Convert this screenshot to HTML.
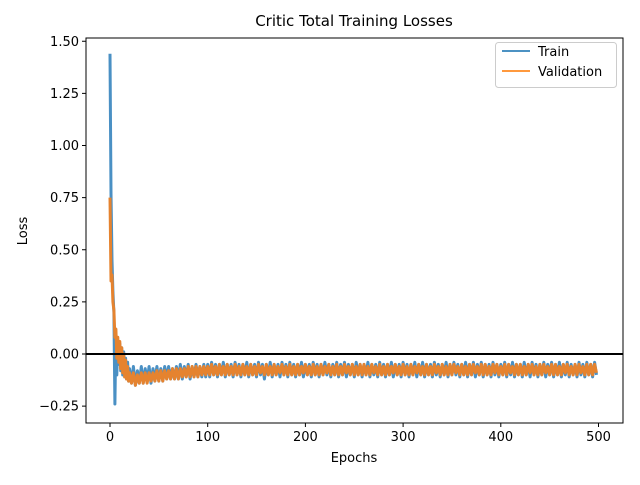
<!DOCTYPE html>
<html><head><meta charset="utf-8"><style>
body{margin:0;background:#fff}
svg text{font-family:"DejaVu Sans","Liberation Sans",sans-serif;fill:#000}
</style></head><body>
<svg id="chart" width="640" height="480"></svg>
<script>
const earlyTrain=[1.44,0.77,0.45,0.30,0.20,-0.24,0.10,-0.10,0.06,-0.05,0.05,-0.08,0.03,-0.10,0.01,-0.11,-0.02,-0.12,-0.04,-0.13];
const earlyVal=[0.75,0.35,0.38,0.25,0.21,0.08,0.12,-0.02,0.08,-0.04,0.06,-0.07,0.03,-0.09,0.00,-0.11,-0.03,-0.12,-0.06,-0.13];
const lateStart=20, lateStep=2;
const lateTrain=[
-0.07,-0.14,-0.06,-0.15,-0.08,-0.14,-0.06,-0.14,-0.07,-0.13,-0.06,-0.14,-0.07,-0.13,-0.06,-0.13,-0.07,-0.13,-0.06,-0.12,
-0.06,-0.12,-0.07,-0.12,-0.06,-0.12,-0.05,-0.12,-0.06,-0.11,-0.05,-0.12,-0.06,-0.11,-0.05,-0.11,-0.06,-0.11,-0.05,-0.11,
-0.05,-0.11,-0.04,-0.10,-0.05,-0.11,-0.05,-0.10,-0.04,-0.11,-0.05,-0.10,-0.05,-0.11,-0.04,-0.10,-0.05,-0.11,-0.05,-0.10,
-0.04,-0.11,-0.05,-0.10,-0.05,-0.11,-0.04,-0.10,-0.05,-0.12,-0.05,-0.10,-0.04,-0.11,-0.05,-0.10,-0.05,-0.11,-0.04,-0.10,
-0.05,-0.11,-0.04,-0.10,-0.05,-0.11,-0.05,-0.10,-0.04,-0.11,-0.05,-0.10,-0.05,-0.11,-0.04,-0.10,-0.05,-0.11,-0.05,-0.10,
-0.04,-0.10,-0.05,-0.11,-0.05,-0.10,-0.04,-0.11,-0.05,-0.10,-0.04,-0.11,-0.05,-0.10,-0.05,-0.11,-0.04,-0.10,-0.05,-0.11,
-0.05,-0.10,-0.04,-0.11,-0.05,-0.10,-0.05,-0.11,-0.04,-0.10,-0.05,-0.11,-0.05,-0.10,-0.04,-0.11,-0.05,-0.10,-0.05,-0.11,
-0.04,-0.10,-0.05,-0.11,-0.05,-0.10,-0.04,-0.11,-0.05,-0.10,-0.04,-0.11,-0.05,-0.10,-0.05,-0.11,-0.04,-0.10,-0.05,-0.11,
-0.05,-0.10,-0.04,-0.11,-0.05,-0.10,-0.04,-0.10,-0.05,-0.11,-0.05,-0.10,-0.04,-0.11,-0.05,-0.10,-0.04,-0.11,-0.05,-0.10,
-0.04,-0.11,-0.05,-0.10,-0.05,-0.11,-0.04,-0.10,-0.05,-0.11,-0.05,-0.10,-0.04,-0.11,-0.05,-0.10,-0.04,-0.11,-0.05,-0.10,
-0.05,-0.11,-0.04,-0.10,-0.05,-0.11,-0.04,-0.10,-0.05,-0.11,-0.05,-0.10,-0.04,-0.11,-0.05,-0.10,-0.04,-0.11,-0.05,-0.10,
-0.04,-0.11,-0.05,-0.10,-0.04,-0.11,-0.05,-0.10,-0.05,-0.11,-0.04,-0.10,-0.05,-0.11,-0.04,-0.10,-0.05,-0.11,-0.04,-0.10];
const lateVal=[
-0.09,-0.14,-0.09,-0.15,-0.10,-0.14,-0.09,-0.14,-0.09,-0.14,-0.09,-0.13,-0.09,-0.13,-0.08,-0.13,-0.08,-0.13,-0.08,-0.12,
-0.08,-0.12,-0.07,-0.12,-0.07,-0.12,-0.07,-0.11,-0.07,-0.11,-0.06,-0.11,-0.06,-0.11,-0.06,-0.11,-0.06,-0.10,-0.06,-0.10,
-0.06,-0.10,-0.05,-0.10,-0.06,-0.10,-0.05,-0.10,-0.06,-0.10,-0.05,-0.10,-0.06,-0.10,-0.05,-0.10,-0.06,-0.10,-0.05,-0.10,
-0.06,-0.10,-0.05,-0.10,-0.06,-0.10,-0.05,-0.09,-0.06,-0.10,-0.05,-0.10,-0.06,-0.10,-0.05,-0.10,-0.06,-0.09,-0.05,-0.10,
-0.06,-0.10,-0.05,-0.10,-0.06,-0.10,-0.05,-0.10,-0.06,-0.09,-0.05,-0.10,-0.06,-0.10,-0.05,-0.10,-0.06,-0.10,-0.05,-0.10,
-0.06,-0.09,-0.05,-0.10,-0.06,-0.10,-0.05,-0.10,-0.06,-0.10,-0.05,-0.09,-0.06,-0.10,-0.05,-0.10,-0.06,-0.10,-0.05,-0.10,
-0.05,-0.10,-0.06,-0.10,-0.05,-0.09,-0.06,-0.10,-0.05,-0.10,-0.06,-0.10,-0.05,-0.10,-0.06,-0.09,-0.05,-0.10,-0.06,-0.10,
-0.05,-0.10,-0.06,-0.10,-0.05,-0.10,-0.06,-0.09,-0.05,-0.10,-0.06,-0.10,-0.05,-0.10,-0.06,-0.10,-0.05,-0.09,-0.06,-0.10,
-0.05,-0.10,-0.06,-0.10,-0.05,-0.10,-0.05,-0.09,-0.06,-0.10,-0.05,-0.10,-0.06,-0.10,-0.05,-0.10,-0.05,-0.09,-0.06,-0.10,
-0.05,-0.10,-0.05,-0.10,-0.06,-0.10,-0.05,-0.09,-0.05,-0.10,-0.06,-0.10,-0.05,-0.10,-0.05,-0.09,-0.06,-0.10,-0.05,-0.10,
-0.05,-0.10,-0.06,-0.10,-0.05,-0.09,-0.05,-0.10,-0.06,-0.10,-0.05,-0.10,-0.05,-0.09,-0.06,-0.10,-0.05,-0.10,-0.05,-0.10,
-0.06,-0.10,-0.05,-0.09,-0.05,-0.10,-0.06,-0.10,-0.05,-0.10,-0.05,-0.09,-0.06,-0.10,-0.05,-0.10,-0.05,-0.10,-0.05,-0.09];
const xTicks=[0,100,200,300,400,500];
const yTicks=[-0.25,0,0.25,0.5,0.75,1.0,1.25,1.5];
const yTickLabels=["−0.25","0.00","0.25","0.50","0.75","1.00","1.25","1.50"];

const svg=document.getElementById('chart');
const NS='http://www.w3.org/2000/svg';
const L=86,R=623,T=38,B=423;
const xs=v=>110+v*0.977;
const ys=v=>354-v*208.5;
function mk(tag,attrs,parent){const e=document.createElementNS(NS,tag);for(const k in attrs)e.setAttribute(k,attrs[k]);(parent||svg).appendChild(e);return e;}

function series(early,late){const pts=[];early.forEach((v,i)=>pts.push([i,v]));late.forEach((v,i)=>pts.push([lateStart+i*lateStep,v]));return pts.map(p=>xs(p[0]).toFixed(1)+','+ys(p[1]).toFixed(1)).join(' ');}
const tl=mk('polyline',{points:series(earlyTrain,lateTrain),fill:'none',stroke:'#4a90c4','stroke-width':3,'stroke-linejoin':'round'});


const vl=mk('polyline',{points:series(earlyVal,lateVal),fill:'none',stroke:'#e5832f','stroke-width':3,'stroke-linejoin':'round'});


const zl=mk('line',{x1:L,x2:R,y1:ys(0),y2:ys(0),stroke:'#000','stroke-width':2});


const fr=mk('rect',{x:L,y:T,width:R-L,height:B-T,fill:'none',stroke:'#000','stroke-width':1});


xTicks.forEach(t=>{const x=xs(t);
 mk('line',{x1:x,x2:x,y1:B,y2:B+4,stroke:'#000'});
 const tx=mk('text',{x:x,y:B+18,'text-anchor':'middle','font-size':13});tx.textContent=t;
 
 });
yTicks.forEach((t,i)=>{const y=ys(t);
 mk('line',{x1:L-4,x2:L,y1:y,y2:y,stroke:'#000'});
 const tx=mk('text',{x:L-7,y:y+4.5,'text-anchor':'end','font-size':13});tx.textContent=yTickLabels[i];
 
 });
const ti=mk('text',{x:354,y:26,'text-anchor':'middle','font-size':15});ti.textContent='Critic Total Training Losses';


const xl=mk('text',{x:354,y:462,'text-anchor':'middle','font-size':13});xl.textContent='Epochs';


const yl=mk('text',{x:27,y:231,'text-anchor':'middle','font-size':13,transform:'rotate(-90 27 231)'});yl.textContent='Loss';


const lg=mk('g',{});


mk('rect',{x:495.5,y:42.5,width:121,height:45,rx:3,fill:'#fff','fill-opacity':0.8,stroke:'#ccc'},lg);
[['Train','#1f77b4',56],['Validation','#ff7f0e',76]].forEach(([n,c,y])=>{
 const g=mk('g',{},lg);
 
 
 mk('line',{x1:502,x2:530,y1:y-5,y2:y-5,stroke:c,'stroke-width':2,'stroke-opacity':0.8},g);
 const t=mk('text',{x:538,y:y,'font-size':13},g);t.textContent=n;});
</script>
</body></html>
